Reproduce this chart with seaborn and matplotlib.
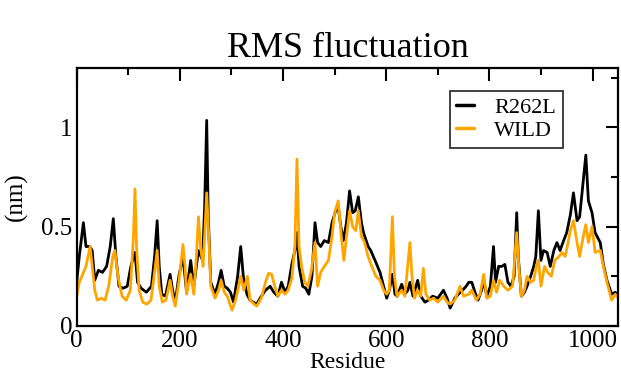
import numpy as np
import pandas as pd
import matplotlib
matplotlib.use("Agg")
import matplotlib.pyplot as plt
from matplotlib.ticker import MultipleLocator, FuncFormatter
import seaborn as sns

# values (residue, RMSF in nm)
r262l_res = [0, 5, 13, 18, 25, 30, 35, 42, 50, 58, 65, 71, 76, 82, 90, 98, 105, 113, 118, 125,
             135, 145, 151, 156, 160, 165, 172, 181, 186, 191, 198, 206, 213, 221, 227, 236, 244, 248, 252, 255,
             260, 268, 275, 280, 286, 292, 298, 304, 312, 318, 323, 330, 336, 342, 349, 358, 366, 375, 382, 390,
             397, 404, 410, 417, 423, 427, 431, 438, 444, 450, 456, 462, 467, 473, 480, 488, 495, 502, 507, 512,
             517, 523, 529, 535, 540, 546, 552, 556, 565, 570, 580, 588, 593, 601, 606, 612, 617, 621, 630, 636,
             642, 646, 652, 661, 667, 675, 682, 690, 700, 711, 718, 724, 733, 740, 748, 755, 760, 766, 772, 778,
             785, 789, 795, 802, 808, 812, 818, 824, 830, 836, 842, 848, 853, 856, 862, 868, 873, 880, 886, 890,
             895, 900, 905, 912, 918, 925, 931, 937, 944, 950, 957, 963, 970, 975, 980, 987, 992, 999, 1005, 1015,
             1021, 1028, 1037, 1044, 1050]
r262l_val = [0.22, 0.35, 0.52, 0.40, 0.40, 0.38, 0.23, 0.28, 0.27, 0.30, 0.40, 0.54, 0.35, 0.20, 0.19, 0.20, 0.30, 0.37, 0.22, 0.19,
             0.17, 0.20, 0.35, 0.53, 0.30, 0.16, 0.15, 0.26, 0.18, 0.12, 0.25, 0.35, 0.17, 0.33, 0.20, 0.38, 0.33, 0.60, 1.035, 0.55,
             0.22, 0.16, 0.22, 0.28, 0.20, 0.19, 0.17, 0.12, 0.25, 0.40, 0.25, 0.16, 0.13, 0.12, 0.11, 0.15, 0.18, 0.20, 0.17, 0.15,
             0.22, 0.17, 0.20, 0.31, 0.38, 0.47, 0.30, 0.20, 0.19, 0.16, 0.25, 0.52, 0.42, 0.40, 0.43, 0.42, 0.52, 0.58, 0.60, 0.50,
             0.43, 0.52, 0.68, 0.57, 0.58, 0.65, 0.52, 0.47, 0.40, 0.38, 0.32, 0.27, 0.22, 0.14, 0.18, 0.26, 0.16, 0.15, 0.21, 0.16,
             0.18, 0.22, 0.15, 0.23, 0.15, 0.12, 0.13, 0.15, 0.14, 0.18, 0.14, 0.09, 0.14, 0.16, 0.18, 0.20, 0.22, 0.22, 0.17, 0.13,
             0.18, 0.23, 0.15, 0.20, 0.40, 0.22, 0.30, 0.30, 0.31, 0.22, 0.20, 0.25, 0.57, 0.35, 0.15, 0.17, 0.20, 0.25, 0.30, 0.35,
             0.58, 0.33, 0.38, 0.37, 0.30, 0.38, 0.42, 0.38, 0.43, 0.47, 0.56, 0.67, 0.53, 0.55, 0.68, 0.86, 0.63, 0.57, 0.47, 0.42,
             0.31, 0.23, 0.16, 0.17, 0.15]

wild_res = [0, 5, 10, 18, 26, 30, 35, 40, 48, 55, 62, 70, 74, 80, 88, 96, 104, 110, 113, 116,
            121, 128, 136, 144, 150, 156, 160, 166, 173, 181, 186, 191, 198, 206, 210, 213, 221, 227, 232, 236,
            240, 245, 249, 252, 256, 260, 268, 275, 280, 286, 292, 301, 308, 314, 318, 324, 331, 336, 344, 349,
            358, 366, 372, 378, 384, 390, 397, 404, 410, 417, 423, 427, 431, 436, 442, 448, 455, 462, 467, 473,
            480, 488, 495, 500, 507, 513, 518, 523, 529, 535, 541, 546, 552, 558, 565, 572, 580, 588, 595, 601,
            606, 612, 616, 621, 630, 636, 646, 650, 655, 661, 667, 672, 677, 684, 692, 700, 711, 718, 724, 733,
            743, 750, 760, 766, 775, 782, 789, 795, 802, 808, 814, 820, 828, 836, 845, 853, 857, 862, 868, 873,
            880, 886, 891, 895, 900, 907, 913, 920, 927, 935, 941, 947, 951, 957, 963, 970, 975, 982, 987, 992,
            999, 1005, 1015, 1021, 1028, 1037, 1044, 1050]
wild_val = [0.15, 0.22, 0.25, 0.30, 0.40, 0.30, 0.18, 0.13, 0.14, 0.13, 0.20, 0.35, 0.38, 0.25, 0.15, 0.13, 0.18, 0.45, 0.69, 0.40,
            0.18, 0.12, 0.11, 0.13, 0.25, 0.38, 0.20, 0.12, 0.13, 0.23, 0.15, 0.10, 0.22, 0.41, 0.30, 0.16, 0.26, 0.16, 0.35, 0.55,
            0.40, 0.30, 0.50, 0.67, 0.45, 0.20, 0.14, 0.18, 0.23, 0.17, 0.15, 0.08, 0.13, 0.20, 0.25, 0.18, 0.25, 0.13, 0.11, 0.10,
            0.14, 0.22, 0.265, 0.26, 0.20, 0.15, 0.18, 0.16, 0.18, 0.24, 0.40, 0.84, 0.40, 0.30, 0.22, 0.20, 0.28, 0.42, 0.20, 0.27,
            0.30, 0.33, 0.45, 0.57, 0.63, 0.45, 0.33, 0.45, 0.58, 0.50, 0.48, 0.58, 0.45, 0.42, 0.35, 0.30, 0.25, 0.23, 0.18, 0.16,
            0.18, 0.55, 0.25, 0.15, 0.18, 0.15, 0.42, 0.25, 0.14, 0.18, 0.15, 0.29, 0.16, 0.13, 0.14, 0.12, 0.15, 0.12, 0.11, 0.13,
            0.20, 0.15, 0.16, 0.18, 0.13, 0.16, 0.26, 0.14, 0.15, 0.23, 0.17, 0.23, 0.20, 0.18, 0.20, 0.47, 0.30, 0.15, 0.18, 0.25,
            0.22, 0.23, 0.30, 0.33, 0.20, 0.30, 0.27, 0.25, 0.33, 0.35, 0.37, 0.35, 0.40, 0.48, 0.53, 0.42, 0.35, 0.45, 0.51, 0.42,
            0.50, 0.37, 0.38, 0.30, 0.22, 0.13, 0.16, 0.14]

data = pd.concat([
    pd.DataFrame({'Residue': r262l_res, 'RMSF': r262l_val, 'System': 'R262L'}),
    pd.DataFrame({'Residue': wild_res, 'RMSF': wild_val, 'System': 'WILD'}),
], ignore_index=True)

sns.set_style("white")
plt.rcParams['font.family'] = ['Liberation Serif', 'DejaVu Serif']
plt.rcParams['text.color'] = 'black'
plt.rcParams['axes.labelcolor'] = 'black'

fig = plt.figure(figsize=(6.21, 3.77), dpi=100)
ax = fig.add_axes([0.1235, 0.1353, 0.8722, 0.6851])

sns.lineplot(data=data, x='Residue', y='RMSF', hue='System',
             palette={'R262L': 'black', 'WILD': '#ffa500'},
             linewidth=2.0, estimator=None, sort=False, ax=ax)

ax.set_xlim(0, 1050)
ax.set_ylim(0, 1.3)
ax.xaxis.set_major_locator(MultipleLocator(200))
ax.xaxis.set_minor_locator(MultipleLocator(100))
ax.yaxis.set_major_locator(MultipleLocator(0.5))
ax.yaxis.set_minor_locator(MultipleLocator(0.25))
ax.yaxis.set_major_formatter(FuncFormatter(lambda v, p: f"{v:g}"))
ax.tick_params(which='both', direction='in', top=True, right=True, width=1.5,
               labelsize=18, colors='black', pad=3)
ax.tick_params(which='major', length=9)
ax.tick_params(which='minor', length=5)
for s in ax.spines.values():
    s.set_linewidth(1.6)
    s.set_color('black')

ax.set_xlabel("Residue", fontsize=17, labelpad=0)
ax.set_ylabel("(nm)", fontsize=18, labelpad=10)
ax.set_title("RMS fluctuation", fontsize=26, pad=8, color='black')

leg = ax.legend(loc='upper right', bbox_to_anchor=(0.897, 0.91), fontsize=16,
                frameon=True, fancybox=False, handlelength=0.8, handletextpad=0.9,
                borderpad=0.3, labelspacing=0.1, borderaxespad=0)
leg.get_frame().set_edgecolor('black')
leg.get_frame().set_linewidth(1.3)
for h in leg.get_lines():
    h.set_linewidth(2.5)

fig.savefig("out.png", dpi=100)
